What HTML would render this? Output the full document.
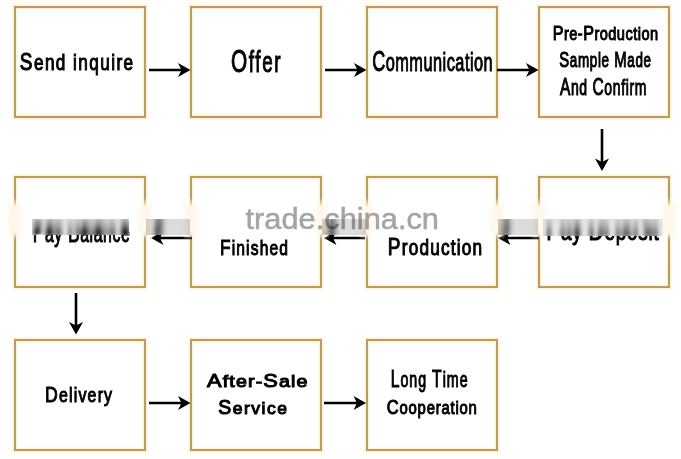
<!DOCTYPE html>
<html><head><meta charset="utf-8">
<style>
html,body{margin:0;padding:0;background:#fff;width:681px;height:459px;overflow:hidden}
svg{display:block}
#content text{font-family:"Liberation Sans",sans-serif;fill:#000;stroke:#000}
.wm{font-family:"Liberation Sans",sans-serif;fill:#a4a4a4;stroke:#a4a4a4;stroke-width:0.5px;mix-blend-mode:multiply}
</style></head>
<body>
<svg width="681" height="459" viewBox="0 0 681 459">
<defs>
<path id="ah" d="M0,0 L-12.5,-7 L-9,0 L-12.5,7 Z"/>
<linearGradient id="gt" x1="0" y1="0" x2="0" y2="1"><stop offset="0" stop-color="#fff" stop-opacity="0.78"/><stop offset="0.45" stop-color="#fff" stop-opacity="0.45"/><stop offset="0.8" stop-color="#fff" stop-opacity="0.12"/><stop offset="1" stop-color="#fff" stop-opacity="0.2"/></linearGradient>
<linearGradient id="ga" x1="0" y1="0" x2="0" y2="1"><stop offset="0" stop-color="#fff" stop-opacity="0.35"/><stop offset="0.6" stop-color="#fff" stop-opacity="0.15"/><stop offset="1" stop-color="#fff" stop-opacity="0.25"/></linearGradient>
<linearGradient id="fadeg" x1="0" y1="0" x2="0" y2="1"><stop offset="0" stop-color="#fef8ec" stop-opacity="0"/><stop offset="0.22" stop-color="#fef8ec"/><stop offset="0.86" stop-color="#fef8ec"/><stop offset="1" stop-color="#fef8ec" stop-opacity="0"/></linearGradient>
<filter id="bl2" x="-50%" y="-20%" width="200%" height="140%"><feGaussianBlur stdDeviation="1.5"/></filter>
<filter id="bl3" x="-10%" y="-20%" width="120%" height="140%"><feGaussianBlur stdDeviation="3.2 0.6"/></filter>
<filter id="bl1" x="-5%" y="-20%" width="110%" height="140%"><feGaussianBlur stdDeviation="2.2 0.6"/></filter>
</defs>
<g id="content">
<g fill="none" stroke="#fdf3d6" stroke-width="5">
<rect x="15" y="7" width="130" height="110"/>
<rect x="191" y="7" width="130" height="110"/>
<rect x="367" y="7" width="130" height="110"/>
<rect x="539" y="7" width="130" height="110"/>
<rect x="15" y="177" width="130" height="110"/>
<rect x="191" y="177" width="130" height="110"/>
<rect x="367" y="177" width="130" height="110"/>
<rect x="539" y="177" width="130" height="110"/>
<rect x="15" y="340" width="130" height="110"/>
<rect x="191" y="340" width="130" height="110"/>
<rect x="367" y="340" width="130" height="110"/>
</g>
<g fill="none" stroke="#bd9a62" stroke-width="2">
<rect x="15" y="7" width="130" height="110"/>
<rect x="191" y="7" width="130" height="110"/>
<rect x="367" y="7" width="130" height="110"/>
<rect x="539" y="7" width="130" height="110"/>
<rect x="15" y="177" width="130" height="110"/>
<rect x="191" y="177" width="130" height="110"/>
<rect x="367" y="177" width="130" height="110"/>
<rect x="539" y="177" width="130" height="110"/>
<rect x="15" y="340" width="130" height="110"/>
<rect x="191" y="340" width="130" height="110"/>
<rect x="367" y="340" width="130" height="110"/>
</g>
<g stroke="#000" stroke-width="2.6" fill="none">
<line x1="149" y1="70" x2="182" y2="70"/>
<line x1="325" y1="70" x2="358" y2="70"/>
<line x1="497" y1="70" x2="530" y2="70"/>
<line x1="602" y1="129" x2="602" y2="162"/>
<line x1="192" y1="238" x2="159" y2="238"/>
<line x1="365" y1="238" x2="332" y2="238"/>
<line x1="539" y1="238" x2="506" y2="238"/>
<line x1="76" y1="293" x2="76" y2="326"/>
<line x1="149" y1="403" x2="182" y2="403"/>
<line x1="324" y1="403" x2="357" y2="403"/>
</g>
<g fill="#000">
<use href="#ah" transform="translate(190.5,70)"/>
<use href="#ah" transform="translate(366.5,70)"/>
<use href="#ah" transform="translate(538.5,70)"/>
<use href="#ah" transform="translate(602,171) rotate(90)"/>
<use href="#ah" transform="translate(151,238) rotate(180)"/>
<use href="#ah" transform="translate(324,238) rotate(180)"/>
<use href="#ah" transform="translate(498,238) rotate(180)"/>
<use href="#ah" transform="translate(76,334.5) rotate(90)"/>
<use href="#ah" transform="translate(190.5,403)"/>
<use href="#ah" transform="translate(366,403)"/>
</g>
<g>
<text x="19.80" y="70.20" font-size="21.64" stroke-width="1.05" letter-spacing="1.8" textLength="114.75" lengthAdjust="spacingAndGlyphs"><tspan font-size="23.95">S</tspan>end inquire</text>
<text x="231.01" y="71.70" font-size="28.96" stroke-width="1.05" letter-spacing="2.5" textLength="51.24" lengthAdjust="spacingAndGlyphs"><tspan font-size="31.94">O</tspan>ffer</text>
<text x="372.23" y="70.80" font-size="26.56" stroke-width="1.05" letter-spacing="0.8" textLength="120.96" lengthAdjust="spacingAndGlyphs"><tspan font-size="29.32">C</tspan>ommunication</text>
<text x="552.76" y="39.70" font-size="18.58" stroke-width="1.05" letter-spacing="0.6" textLength="105.76" lengthAdjust="spacingAndGlyphs"><tspan font-size="20.60">P</tspan>re-<tspan font-size="20.60">P</tspan>roduction</text>
<text x="559.16" y="67.10" font-size="19.77" stroke-width="1.05" letter-spacing="1.0" textLength="92.55" lengthAdjust="spacingAndGlyphs"><tspan font-size="21.91">S</tspan>ample <tspan font-size="21.91">M</tspan>ade</text>
<text x="559.89" y="94.60" font-size="21.24" stroke-width="1.05" letter-spacing="1.0" textLength="87.32" lengthAdjust="spacingAndGlyphs"><tspan font-size="23.51">A</tspan>nd <tspan font-size="23.51">C</tspan>onfirm</text>
<text x="32.73" y="241.90" font-size="25.23" stroke-width="1.05" letter-spacing="1.0" textLength="97.60" lengthAdjust="spacingAndGlyphs"><tspan font-size="27.87">P</tspan>ay <tspan font-size="27.87">B</tspan>alance</text>
<text x="219.98" y="254.90" font-size="20.57" stroke-width="1.05" letter-spacing="1.5" textLength="69.15" lengthAdjust="spacingAndGlyphs"><tspan font-size="22.78">F</tspan>inished</text>
<text x="387.86" y="255.00" font-size="21.24" stroke-width="1.05" letter-spacing="1.5" textLength="95.45" lengthAdjust="spacingAndGlyphs"><tspan font-size="23.51">P</tspan>roduction</text>
<text x="546.23" y="240.20" font-size="24.96" stroke-width="1.05" letter-spacing="1.0" textLength="113.39" lengthAdjust="spacingAndGlyphs"><tspan font-size="27.58">P</tspan>ay <tspan font-size="27.58">D</tspan>eposit</text>
<text x="45.08" y="402.10" font-size="20.57" stroke-width="1.05" letter-spacing="1.5" textLength="68.18" lengthAdjust="spacingAndGlyphs"><tspan font-size="22.78">D</tspan>elivery</text>
<text x="207.05" y="386.70" font-size="17.25" stroke-width="1.05" letter-spacing="1.0" textLength="101.62" lengthAdjust="spacingAndGlyphs"><tspan font-size="19.15">A</tspan>fter-<tspan font-size="19.15">S</tspan>ale</text>
<text x="218.22" y="414.30" font-size="17.38" stroke-width="1.05" letter-spacing="1.5" textLength="70.30" lengthAdjust="spacingAndGlyphs"><tspan font-size="19.30">S</tspan>ervice</text>
<text x="390.71" y="386.50" font-size="21.24" stroke-width="1.05" letter-spacing="1.5" textLength="77.89" lengthAdjust="spacingAndGlyphs"><tspan font-size="23.51">L</tspan>ong <tspan font-size="23.51">T</tspan>ime</text>
<text x="386.78" y="413.80" font-size="18.98" stroke-width="1.05" letter-spacing="1.0" textLength="90.84" lengthAdjust="spacingAndGlyphs"><tspan font-size="21.04">C</tspan>ooperation</text>
</g>
</g>
<g id="fade">
<rect x="8" y="198" width="14" height="41" fill="url(#fadeg)" filter="url(#bl2)"/>
<rect x="138" y="198" width="14" height="41" fill="url(#fadeg)" filter="url(#bl2)"/>
<rect x="184" y="198" width="14" height="41" fill="url(#fadeg)" filter="url(#bl2)"/>
<rect x="314" y="198" width="14" height="41" fill="url(#fadeg)" filter="url(#bl2)"/>
<rect x="360" y="198" width="14" height="41" fill="url(#fadeg)" filter="url(#bl2)"/>
<rect x="490" y="198" width="14" height="41" fill="url(#fadeg)" filter="url(#bl2)"/>
<rect x="532" y="198" width="14" height="41" fill="url(#fadeg)" filter="url(#bl2)"/>
<rect x="662" y="198" width="14" height="41" fill="url(#fadeg)" filter="url(#bl2)"/>
</g>
<clipPath id="sc0" clipPathUnits="userSpaceOnUse"><rect x="32" y="219" width="97" height="16"/></clipPath>
<clipPath id="rc0" clipPathUnits="userSpaceOnUse"><rect x="26" y="234" width="109" height="1"/></clipPath>
<g clip-path="url(#sc0)">
<rect x="32" y="219" width="97" height="16" fill="#fff"/>
<g filter="url(#bl1)"><g transform="translate(0,235) scale(1,16) translate(0,-235)"><g clip-path="url(#rc0)"><use href="#content"/></g></g></g>
<rect x="32" y="219" width="97" height="16" fill="url(#gt)"/>
<rect x="32" y="219" width="97" height="16" fill="#000" fill-opacity="0.106"/>
</g>
<clipPath id="sc1" clipPathUnits="userSpaceOnUse"><rect x="146" y="219" width="44" height="16"/></clipPath>
<clipPath id="rc1" clipPathUnits="userSpaceOnUse"><rect x="140" y="235" width="56" height="1"/></clipPath>
<g clip-path="url(#sc1)">
<rect x="146" y="219" width="44" height="16" fill="#fff"/>
<g filter="url(#bl3)"><g transform="translate(0,236) scale(1,17) translate(0,-236)"><g clip-path="url(#rc1)"><use href="#content"/></g></g></g>
<rect x="146" y="219" width="44" height="16" fill="url(#ga)"/>
<rect x="146" y="219" width="44" height="16" fill="#000" fill-opacity="0.137"/>
</g>
<clipPath id="sc2" clipPathUnits="userSpaceOnUse"><rect x="322" y="219" width="44" height="16"/></clipPath>
<clipPath id="rc2" clipPathUnits="userSpaceOnUse"><rect x="316" y="235" width="56" height="1"/></clipPath>
<g clip-path="url(#sc2)">
<rect x="322" y="219" width="44" height="16" fill="#fff"/>
<g filter="url(#bl3)"><g transform="translate(0,236) scale(1,17) translate(0,-236)"><g clip-path="url(#rc2)"><use href="#content"/></g></g></g>
<rect x="322" y="219" width="44" height="16" fill="url(#ga)"/>
<rect x="322" y="219" width="44" height="16" fill="#000" fill-opacity="0.137"/>
</g>
<clipPath id="sc3" clipPathUnits="userSpaceOnUse"><rect x="498" y="219" width="40" height="16"/></clipPath>
<clipPath id="rc3" clipPathUnits="userSpaceOnUse"><rect x="492" y="235" width="52" height="1"/></clipPath>
<g clip-path="url(#sc3)">
<rect x="498" y="219" width="40" height="16" fill="#fff"/>
<g filter="url(#bl3)"><g transform="translate(0,236) scale(1,17) translate(0,-236)"><g clip-path="url(#rc3)"><use href="#content"/></g></g></g>
<rect x="498" y="219" width="40" height="16" fill="url(#ga)"/>
<rect x="498" y="219" width="40" height="16" fill="#000" fill-opacity="0.137"/>
</g>
<clipPath id="sc4" clipPathUnits="userSpaceOnUse"><rect x="543" y="219" width="120" height="17"/></clipPath>
<clipPath id="rc4" clipPathUnits="userSpaceOnUse"><rect x="537" y="235" width="132" height="1"/></clipPath>
<g clip-path="url(#sc4)">
<rect x="543" y="219" width="120" height="17" fill="#fff"/>
<g filter="url(#bl1)"><g transform="translate(0,236) scale(1,17) translate(0,-236)"><g clip-path="url(#rc4)"><use href="#content"/></g></g></g>
<rect x="543" y="219" width="120" height="17" fill="url(#gt)"/>
<rect x="543" y="219" width="120" height="17" fill="#000" fill-opacity="0.098"/>
</g>
<text class="wm" x="245.5" y="228.6" font-size="30" textLength="193.5" lengthAdjust="spacingAndGlyphs">trade.china.cn</text>
</svg>
</body></html>
